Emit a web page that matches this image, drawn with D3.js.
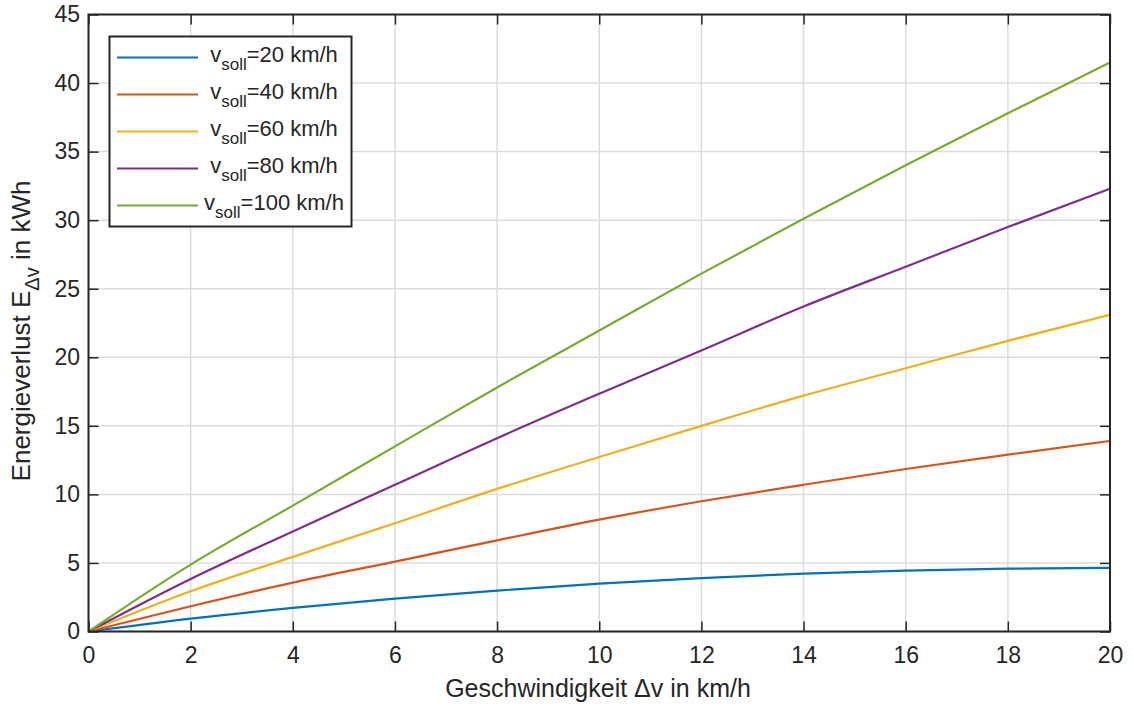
<!DOCTYPE html>
<html><head><meta charset="utf-8">
<script src="https://cdn.jsdelivr.net/npm/d3@7"></script>
<style>body{margin:0;background:#fff;} svg{display:block;font-family:"Liberation Sans",Arial,Helvetica,sans-serif;}</style>
</head><body>
<svg id="c" width="1134" height="707"></svg>
<script>
const xs = [0, 2, 4, 6, 8, 10, 12, 14, 16, 18, 20];
const v20 = [0, 0.94, 1.72, 2.4, 2.98, 3.49, 3.9, 4.22, 4.44, 4.58, 4.64];
const v40 = [0, 1.84, 3.57, 5.1, 6.65, 8.16, 9.5, 10.7, 11.85, 12.9, 13.9];
const v60 = [0, 2.93, 5.44, 7.9, 10.4, 12.73, 15.0, 17.2, 19.2, 21.2, 23.1];
const v80 = [0, 3.83, 7.3, 10.7, 14.1, 17.34, 20.5, 23.7, 26.6, 29.5, 32.3];
const v100 = [0, 4.88, 9.18, 13.5, 17.8, 21.95, 26.1, 30.1, 34.0, 37.8, 41.5];
const seriesNames = ["20", "40", "60", "80", "100"];
const colors = ["#0072BD", "#D95319", "#EDB120", "#7E2F8E", "#77AC30"];
const xTicks = [0, 2, 4, 6, 8, 10, 12, 14, 16, 18, 20];
const yTicks = [0, 5, 10, 15, 20, 25, 30, 35, 40, 45];
const allSeries = [v20, v40, v60, v80, v100];

const svg = d3.select("#c");
const L = 88.5, R = 1110, T = 14.5, B = 631.5;
const x = d3.scaleLinear().domain([0, 20]).range([L, R]);
const y = d3.scaleLinear().domain([0, 45]).range([B, T]);

// grid
const g = svg.append("g");
g.selectAll(".gx").data(xTicks).enter().append("line")
  .attr("x1", d => x(d)).attr("x2", d => x(d)).attr("y1", T).attr("y2", B)
  .attr("stroke", "#dcdcdc").attr("stroke-width", 1.5);
g.selectAll(".gy").data(yTicks).enter().append("line")
  .attr("y1", d => y(d)).attr("y2", d => y(d)).attr("x1", L).attr("x2", R)
  .attr("stroke", "#dcdcdc").attr("stroke-width", 1.5);

// lines
const line = d3.line().x((d, i) => x(xs[i])).y(d => y(d)).curve(d3.curveMonotoneX);
allSeries.forEach((s, k) => {
  svg.append("path").datum(s).attr("d", line).attr("fill", "none")
    .attr("stroke", colors[k]).attr("stroke-width", 2.2);
});

// axes box and ticks (inward)
const axc = "#262626";
const tl = 10;
const ax = svg.append("g");
const xb = d3.axisBottom(x).tickValues(xTicks).tickSizeInner(-tl).tickSizeOuter(0).tickPadding(15.5);
const yl = d3.axisLeft(y).tickValues(yTicks).tickSizeInner(-tl).tickSizeOuter(0).tickPadding(8.5);
const xt = d3.axisTop(x).tickValues(xTicks).tickSizeInner(-tl).tickSizeOuter(0).tickFormat("");
const yr = d3.axisRight(y).tickValues(yTicks).tickSizeInner(-tl).tickSizeOuter(0).tickFormat("");
[[xb, `translate(0,${B})`], [yl, `translate(${L},0)`], [xt, `translate(0,${T})`], [yr, `translate(${R},0)`]].forEach(([a, tr]) => {
  const gg = ax.append("g").attr("transform", tr).call(a);
  gg.select(".domain").remove();
  gg.selectAll("line").attr("stroke", axc).attr("stroke-width", 1.5);
  gg.selectAll("text").attr("fill", axc).style("font-size", "23px").style("font-family", "'Liberation Sans',Arial,sans-serif");
});
svg.append("rect").attr("x", L).attr("y", T).attr("width", R - L).attr("height", B - T)
  .attr("fill", "none").attr("stroke", axc).attr("stroke-width", 2);

// axis labels
svg.append("text").attr("x", 598).attr("y", 697).attr("text-anchor", "middle")
  .attr("fill", axc).style("font-size", "25px").text("Geschwindigkeit \u0394v in km/h");
const ylab = svg.append("text").attr("transform", `translate(30,331) rotate(-90)`)
  .attr("text-anchor", "middle").attr("fill", axc).style("font-size", "26px");
ylab.append("tspan").text("Energieverlust E");
ylab.append("tspan").attr("dy", 9).style("font-size", "20px").text("\u0394v");
ylab.append("tspan").attr("dy", -9).text(" in kWh");

// legend
const lg = svg.append("g");
lg.append("rect").attr("x", 109.5).attr("y", 36.5).attr("width", 242).attr("height", 190)
  .attr("fill", "#fff").attr("stroke", axc).attr("stroke-width", 2);
seriesNames.forEach((n, k) => {
  const yy = 57.5 + k * 37;
  lg.append("line").attr("x1", 117).attr("x2", 198).attr("y1", yy).attr("y2", yy)
    .attr("stroke", colors[k]).attr("stroke-width", 2.2);
  const t = lg.append("text").attr("x", 274).attr("y", yy + 4).attr("text-anchor", "middle")
    .attr("fill", axc).style("font-size", "22px");
  t.append("tspan").text("v");
  t.append("tspan").attr("dy", 8).style("font-size", "17px").text("soll");
  t.append("tspan").attr("dy", -8).text("=" + n + " km/h");
});
</script>
</body></html>
